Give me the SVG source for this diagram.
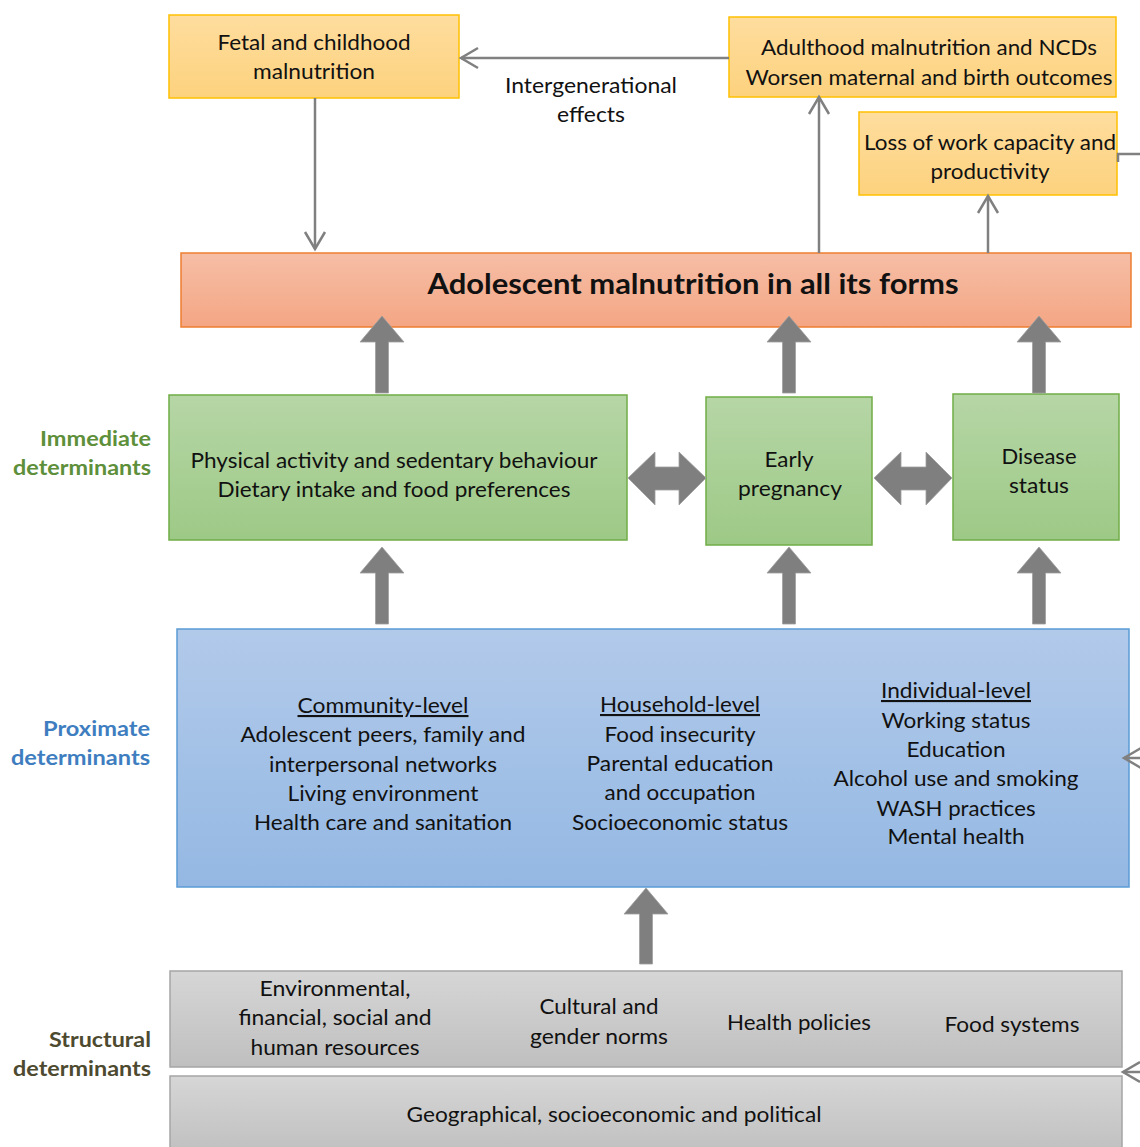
<svg xmlns="http://www.w3.org/2000/svg" width="1140" height="1147" viewBox="0 0 1140 1147">
<defs>
<linearGradient id="gy" x1="0" y1="0" x2="0" y2="1"><stop offset="0" stop-color="#FEDD9E"/><stop offset="1" stop-color="#FDD27E"/></linearGradient>
<linearGradient id="go" x1="0" y1="0" x2="0" y2="1"><stop offset="0" stop-color="#F6BEA6"/><stop offset="1" stop-color="#F4A684"/></linearGradient>
<linearGradient id="gg" x1="0" y1="0" x2="0" y2="1"><stop offset="0" stop-color="#B6D6A6"/><stop offset="1" stop-color="#9DC986"/></linearGradient>
<linearGradient id="gb" x1="0" y1="0" x2="0" y2="1"><stop offset="0" stop-color="#B2CAEA"/><stop offset="1" stop-color="#94B8E3"/></linearGradient>
<linearGradient id="gr" x1="0" y1="0" x2="0" y2="1"><stop offset="0" stop-color="#D6D6D6"/><stop offset="1" stop-color="#BFBFBF"/></linearGradient>
<marker id="open" markerUnits="userSpaceOnUse" markerWidth="24" markerHeight="24" viewBox="-20 -12 24 24" refX="0" refY="0" orient="auto">
<path d="M-17,-10 L0,0 L-17,10" fill="none" stroke="#808080" stroke-width="2.5"/>
</marker>
</defs>
<style>
text{font-family:Lato,"Open Sans","DejaVu Sans",sans-serif;font-size:21px;fill:#111;text-anchor:middle}
.yb{fill:url(#gy);stroke:#FFC000;stroke-width:1.5}
.ob{fill:url(#go);stroke:#ED7D31;stroke-width:1.5}
.gb{fill:url(#gg);stroke:#70AD47;stroke-width:1.5}
.bb{fill:url(#gb);stroke:#5B9BD5;stroke-width:1.5}
.rb{fill:url(#gr);stroke:#A5A5A5;stroke-width:1.5}
.ln{fill:none;stroke:#808080;stroke-width:2.5}
.blk{fill:#7F7F7F;stroke:#A0A0A0;stroke-width:0.8}
.lbl{font-weight:bold;text-anchor:end}
.u{text-decoration:underline}
</style>

<g id="labels">
<text class="lbl" x="151" y="446" style="fill:#5E8F3A" textLength="111" lengthAdjust="spacingAndGlyphs">Immediate</text>
<text class="lbl" x="151" y="475" style="fill:#5E8F3A" textLength="138" lengthAdjust="spacingAndGlyphs">determinants</text>
<text class="lbl" x="150" y="736" style="fill:#3E7EC0" textLength="107" lengthAdjust="spacingAndGlyphs">Proximate</text>
<text class="lbl" x="150" y="765" style="fill:#3E7EC0" textLength="139" lengthAdjust="spacingAndGlyphs">determinants</text>
<text class="lbl" x="151" y="1047" style="fill:#4D4A30" textLength="102" lengthAdjust="spacingAndGlyphs">Structural</text>
<text class="lbl" x="151" y="1076" style="fill:#4D4A30" textLength="138" lengthAdjust="spacingAndGlyphs">determinants</text>
</g>

<g id="fetal">
<rect class="yb" x="169" y="15" width="290" height="83"/>
<text x="314" y="50" textLength="193" lengthAdjust="spacingAndGlyphs">Fetal and childhood</text>
<text x="314" y="79" textLength="122" lengthAdjust="spacingAndGlyphs">malnutrition</text>
</g>

<g id="adulthood">
<rect class="yb" x="729" y="17" width="387" height="80"/>
<text x="929" y="55" textLength="336" lengthAdjust="spacingAndGlyphs">Adulthood malnutrition and NCDs</text>
<text x="929" y="85" textLength="367" lengthAdjust="spacingAndGlyphs">Worsen maternal and birth outcomes</text>
</g>

<g id="loss">
<rect class="yb" x="859" y="112" width="258" height="83"/>
<text x="990" y="150" textLength="252" lengthAdjust="spacingAndGlyphs">Loss of work capacity and</text>
<text x="990" y="179" textLength="119" lengthAdjust="spacingAndGlyphs">productivity</text>
</g>

<g id="adolescent">
<rect class="ob" x="181" y="253" width="950" height="74"/>
<text x="693" y="294" style="font-weight:bold;font-size:28px" textLength="531" lengthAdjust="spacingAndGlyphs">Adolescent malnutrition in all its forms</text>
</g>

<g id="physical">
<rect class="gb" x="169" y="395" width="458" height="145"/>
<text x="394" y="468" textLength="407" lengthAdjust="spacingAndGlyphs">Physical activity and sedentary behaviour</text>
<text x="394" y="497" textLength="353" lengthAdjust="spacingAndGlyphs">Dietary intake and food preferences</text>
</g>

<g id="early">
<rect class="gb" x="706" y="397" width="166" height="148"/>
<text x="789" y="467" textLength="49" lengthAdjust="spacingAndGlyphs">Early</text>
<text x="790" y="496" textLength="104" lengthAdjust="spacingAndGlyphs">pregnancy</text>
</g>

<g id="disease">
<rect class="gb" x="953" y="394" width="166" height="146"/>
<text x="1039" y="464" textLength="75" lengthAdjust="spacingAndGlyphs">Disease</text>
<text x="1039" y="493" textLength="60" lengthAdjust="spacingAndGlyphs">status</text>
</g>

<g id="proximate">
<rect class="bb" x="177" y="629" width="952" height="258"/>
<text class="u" x="383" y="713" textLength="171" lengthAdjust="spacingAndGlyphs">Community-level</text>
<text x="383" y="742" textLength="285" lengthAdjust="spacingAndGlyphs">Adolescent peers, family and</text>
<text x="383" y="772" textLength="228" lengthAdjust="spacingAndGlyphs">interpersonal networks</text>
<text x="383" y="801" textLength="191" lengthAdjust="spacingAndGlyphs">Living environment</text>
<text x="383" y="830" textLength="258" lengthAdjust="spacingAndGlyphs">Health care and sanitation</text>
<text class="u" x="680" y="712" textLength="160" lengthAdjust="spacingAndGlyphs">Household-level</text>
<text x="680" y="742" textLength="151" lengthAdjust="spacingAndGlyphs">Food insecurity</text>
<text x="680" y="771" textLength="187" lengthAdjust="spacingAndGlyphs">Parental education</text>
<text x="680" y="800" textLength="151" lengthAdjust="spacingAndGlyphs">and occupation</text>
<text x="680" y="830" textLength="216" lengthAdjust="spacingAndGlyphs">Socioeconomic status</text>
<text class="u" x="956" y="698" textLength="150" lengthAdjust="spacingAndGlyphs">Individual-level</text>
<text x="956" y="728" textLength="149" lengthAdjust="spacingAndGlyphs">Working status</text>
<text x="956" y="757" textLength="99" lengthAdjust="spacingAndGlyphs">Education</text>
<text x="956" y="786" textLength="245" lengthAdjust="spacingAndGlyphs">Alcohol use and smoking</text>
<text x="956" y="816" textLength="159" lengthAdjust="spacingAndGlyphs">WASH practices</text>
<text x="956" y="844" textLength="137" lengthAdjust="spacingAndGlyphs">Mental health</text>
</g>

<g id="structural">
<rect class="rb" x="170" y="971" width="952" height="96"/>
<text x="335" y="996" textLength="151" lengthAdjust="spacingAndGlyphs">Environmental,</text>
<text x="335" y="1025" textLength="193" lengthAdjust="spacingAndGlyphs">financial, social and</text>
<text x="335" y="1055" textLength="169" lengthAdjust="spacingAndGlyphs">human resources</text>
<text x="599" y="1014" textLength="119" lengthAdjust="spacingAndGlyphs">Cultural and</text>
<text x="599" y="1044" textLength="138" lengthAdjust="spacingAndGlyphs">gender norms</text>
<text x="799" y="1030" textLength="144" lengthAdjust="spacingAndGlyphs">Health policies</text>
<text x="1012" y="1032" textLength="135" lengthAdjust="spacingAndGlyphs">Food systems</text>
</g>

<g id="geographical">
<rect class="rb" x="170" y="1076" width="952" height="80"/>
<text x="614" y="1122" textLength="415" lengthAdjust="spacingAndGlyphs">Geographical, socioeconomic and political</text>
</g>

<g id="connectors">
<line class="ln" x1="315" y1="98" x2="315" y2="249" marker-end="url(#open)"/>
<line class="ln" x1="729" y1="58" x2="461" y2="58" marker-end="url(#open)"/>
<line class="ln" x1="819" y1="253" x2="819" y2="97" marker-end="url(#open)"/>
<line class="ln" x1="988" y1="253" x2="988" y2="196" marker-end="url(#open)"/>
<polyline class="ln" points="1118,162 1118,154 1142,154"/>
<line class="ln" x1="1142" y1="758" x2="1124" y2="758" marker-end="url(#open)"/>
<line class="ln" x1="1142" y1="1072" x2="1123" y2="1072" marker-end="url(#open)"/>
<text x="591" y="93" textLength="172" lengthAdjust="spacingAndGlyphs">Intergenerational</text>
<text x="591" y="122" textLength="68" lengthAdjust="spacingAndGlyphs">effects</text>
<polygon class="blk" points="375.5,393 375.5,342 360,342 382,316 404,342 388.5,342 388.5,393"/>
<polygon class="blk" points="782.5,393 782.5,342 767,342 789,316 811,342 795.5,342 795.5,393"/>
<polygon class="blk" points="1032.5,393 1032.5,342 1017,342 1039,316 1061,342 1045.5,342 1045.5,393"/>
<polygon class="blk" points="375.5,624 375.5,573 360,573 382,547 404,573 388.5,573 388.5,624"/>
<polygon class="blk" points="782.5,624 782.5,573 767,573 789,547 811,573 795.5,573 795.5,624"/>
<polygon class="blk" points="1032.5,624 1032.5,573 1017,573 1039,547 1061,573 1045.5,573 1045.5,624"/>
<polygon class="blk" points="639.5,964 639.5,914 624,914 646,888 668,914 652.5,914 652.5,964"/>
<polygon class="blk" points="628,478 655,452 655,467 679,467 679,452 706,478 679,505 679,490 655,490 655,505"/>
<polygon class="blk" points="874,478 901,452 901,467 926,467 926,452 952,478 926,505 926,490 901,490 901,505"/>
</g>
</svg>
